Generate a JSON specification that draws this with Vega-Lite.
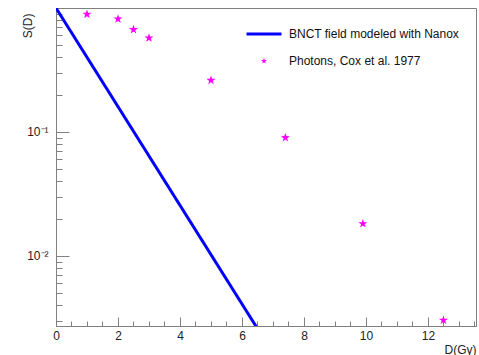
{
  "$schema": "https://vega.github.io/schema/vega-lite/v6.json",
  "width": 420,
  "height": 318,
  "autosize": {"type": "none"},
  "padding": {"left": 56, "top": 8, "right": 3, "bottom": 29},
  "background": "white",
  "config": {
    "font": "Liberation Sans",
    "view": {"stroke": "#808080", "strokeWidth": 1},
    "axis": {
      "domainColor": "#808080",
      "tickColor": "#808080",
      "labelColor": "#222222",
      "titleColor": "#222222",
      "labelFont": "Liberation Sans",
      "titleFont": "Liberation Sans",
      "labelFontSize": 12,
      "titleFontSize": 12,
      "titleFontWeight": "normal",
      "grid": false,
      "labelOverlap": false,
      "labelBound": false,
      "labelFlush": false
    }
  },
  "encoding": {
    "x": {
      "field": "D",
      "type": "quantitative",
      "scale": {"domain": [0, 13.55], "nice": false, "zero": false},
      "axis": {
        "title": "D(Gy)",
        "values": [0,0.5,1,1.5,2,2.5,3,3.5,4,4.5,5,5.5,6,6.5,7,7.5,8,8.5,9,9.5,10,10.5,11,11.5,12,12.5,13,13.5],
        "labelExpr": "datum.value % 2 == 0 ? format(datum.value, 'd') : ''",
        "tickSize": {"condition": {"test": "datum.value % 2 == 0", "value": -9}, "value": -5},
        "labelPadding": 13,
        "titleX": 420,
        "titleY": 23,
        "titleAlign": "right",
        "titleBaseline": "middle"
      }
    },
    "y": {
      "field": "S",
      "type": "quantitative",
      "scale": {"type": "log", "domain": [0.00272, 1], "nice": false},
      "axis": {
        "title": "S(D)",
        "values": [0.003,0.004,0.005,0.006,0.007,0.008,0.009,0.01,0.02,0.03,0.04,0.05,0.06,0.07,0.08,0.09,0.1,0.2,0.3,0.4,0.5,0.6,0.7,0.8,0.9,1],
        "labelExpr": "datum.value == 0.1 ? '10⁻¹' : (datum.value == 0.01 ? '10⁻²' : '')",
        "tickSize": {"condition": {"test": "datum.value == 0.1 || datum.value == 0.01 || datum.value == 1", "value": -13}, "value": -6},
        "labelPadding": 21,
        "titleAngle": -90,
        "titleX": -29,
        "titleY": 5,
        "titleAlign": "right",
        "titleBaseline": "middle"
      }
    },
    "color": {
      "field": "series",
      "type": "nominal",
      "scale": {
        "domain": ["BNCT field modeled with Nanox", "Photons, Cox et al. 1977"],
        "range": ["#0000ff", "#ff00ff"]
      },
      "legend": {
        "title": null,
        "orient": "none",
        "legendX": 202,
        "legendY": 20,
        "padding": 0,
        "labelFont": "Liberation Sans",
        "labelFontSize": 12,
        "labelColor": "#111111",
        "labelLimit": 400,
        "labelOffset": 19,
        "rowPadding": 15,
        "symbolType": "stroke",
        "symbolSize": 1225,
        "encode": {
          "symbols": {
            "update": {
              "shape": {"signal": "datum.value == 'BNCT field modeled with Nanox' ? 'stroke' : 'M0,-1L0.235,-0.324L0.951,-0.309L0.38,0.124L0.588,0.809L0,0.4L-0.588,0.809L-0.38,0.124L-0.951,-0.309L-0.235,-0.324Z'"},
              "size": {"signal": "datum.value == 'BNCT field modeled with Nanox' ? 1225 : 40"},
              "strokeWidth": {"signal": "datum.value == 'BNCT field modeled with Nanox' ? 3 : 0"},
              "stroke": {"signal": "datum.value == 'BNCT field modeled with Nanox' ? '#3030ff' : '#ff00ff'"},
              "fill": {"signal": "datum.value == 'BNCT field modeled with Nanox' ? 'transparent' : '#ff00ff'"},
              "opacity": {"value": 1}
            }
          }
        }
      }
    }
  },
  "layer": [
    {
      "data": {"values": [
        {"D": 0, "S": 1, "series": "BNCT field modeled with Nanox"},
        {"D": 6.5, "S": 0.00259, "series": "BNCT field modeled with Nanox"}
      ]},
      "mark": {"type": "line", "strokeWidth": 3, "clip": true}
    },
    {
      "data": {"values": [
        {"D": 1.0, "S": 0.89, "series": "Photons, Cox et al. 1977"},
        {"D": 2.0, "S": 0.815, "series": "Photons, Cox et al. 1977"},
        {"D": 2.5, "S": 0.67, "series": "Photons, Cox et al. 1977"},
        {"D": 3.0, "S": 0.573, "series": "Photons, Cox et al. 1977"},
        {"D": 5.0, "S": 0.261, "series": "Photons, Cox et al. 1977"},
        {"D": 7.4, "S": 0.090, "series": "Photons, Cox et al. 1977"},
        {"D": 9.9, "S": 0.0182, "series": "Photons, Cox et al. 1977"},
        {"D": 12.5, "S": 0.00303, "series": "Photons, Cox et al. 1977"}
      ]},
      "mark": {"type": "point", "shape": "M0,-1L0.235,-0.324L0.951,-0.309L0.38,0.124L0.588,0.809L0,0.4L-0.588,0.809L-0.38,0.124L-0.951,-0.309L-0.235,-0.324Z", "filled": true, "size": 90, "opacity": 1}
    }
  ]
}
